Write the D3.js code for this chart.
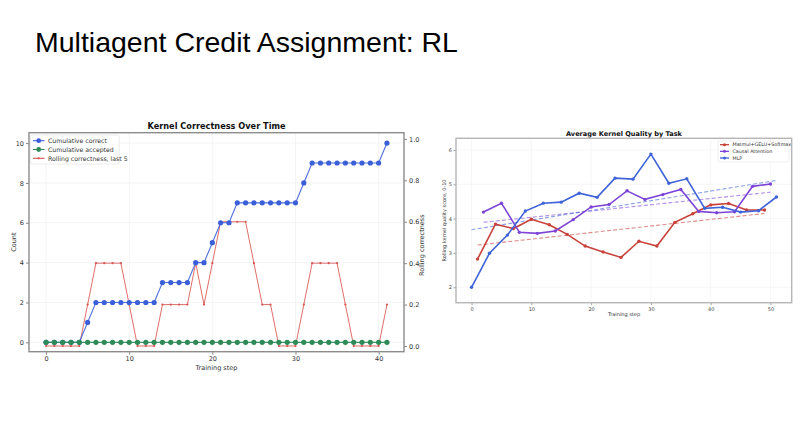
<!DOCTYPE html>
<html><head><meta charset="utf-8">
<script src="https://cdn.jsdelivr.net/npm/d3@7"></script>
<style>
body{margin:0;background:#fff;}
svg{display:block;}
text{font-family:"DejaVu Sans",sans-serif;fill:#333;}
</style></head>
<body>
<svg id="c" width="806" height="447"></svg>
<script>
// ---------- Data: left chart ----------
const stepsLeft = d3.range(0, 42);
const cumulativeCorrect = [0,0,0,0,0,1,2,2,2,2,2,2,2,2,3,3,3,3,4,4,5,6,6,7,7,7,7,7,7,7,7,8,9,9,9,9,9,9,9,9,9,10];
const cumulativeAccepted = stepsLeft.map(() => 0);
const rollingCorrectness = [0,0,0,0,0,0.2,0.4,0.4,0.4,0.4,0.2,0,0,0,0.2,0.2,0.2,0.2,0.4,0.2,0.4,0.6,0.6,0.6,0.6,0.4,0.2,0.2,0,0,0,0.2,0.4,0.4,0.4,0.4,0.2,0,0,0,0,0.2];
const leftXTicks = [0,10,20,30,40];
const leftYTicks = [0,2,4,6,8,10];
const leftY2Ticks = [0,0.2,0.4,0.6,0.8,1.0];
const leftLegend = ["Cumulative correct","Cumulative accepted","Rolling correctness, last 5"];

// ---------- Data: right chart ----------
const matmulSteps = [1,4,7,10,13,16,19,22,25,28,31,34,37,40,43,46,49];
const matmulValues = [2.82,3.84,3.71,3.98,3.82,3.54,3.20,3.03,2.87,3.34,3.20,3.89,4.14,4.40,4.44,4.25,4.25];
const attnSteps = [2,5,8,11,14,17,20,23,26,29,32,35,38,41,44,47,50];
const attnValues = [4.19,4.45,3.60,3.57,3.64,3.97,4.34,4.41,4.81,4.56,4.70,4.85,4.21,4.17,4.20,4.94,5.01];
const mlpSteps = [0,3,6,9,12,15,18,21,24,27,30,33,36,39,42,45,48,51];
const mlpValues = [2.00,2.99,3.52,4.22,4.45,4.48,4.74,4.62,5.18,5.15,5.88,5.03,5.16,4.30,4.33,4.19,4.23,4.63];
const rightXTicks = [0,10,20,30,40,50];
const rightYTicks = [2,3,4,5,6];
const rightLegend = ["Matmul+GELU+Softmax","Causal Attention","MLP"];

const svg = d3.select("#c");

// Slide title
svg.append("text").attr("x",35).attr("y",52)
  .style("font-family","'Liberation Sans',Arial,sans-serif")
  .style("font-size","28.5px").style("fill","#000")
  .text("Multiagent Credit Assignment: RL");

// ================= LEFT CHART =================
(function(){
  const L = {x0:29, x1:404, y0:132.7, y1:351.7};
  const x = d3.scaleLinear().domain([-2.05,43.05]).range([L.x0,L.x1]);
  const y = d3.scaleLinear().domain([-0.47,10.52]).range([L.y1,L.y0]);
  const y2 = d3.scaleLinear().domain([-0.0275,1.03]).range([L.y1,L.y0]);
  const g = svg.append("g");
  const fs = "6.5px";

  g.selectAll(".gx").data(leftXTicks).join("line")
    .attr("x1",d=>x(d)).attr("x2",d=>x(d)).attr("y1",L.y0).attr("y2",L.y1)
    .attr("stroke","#ececec").attr("stroke-width",0.6);
  g.selectAll(".gy").data(leftYTicks).join("line")
    .attr("y1",d=>y(d)).attr("y2",d=>y(d)).attr("x1",L.x0).attr("x2",L.x1)
    .attr("stroke","#ececec").attr("stroke-width",0.6);

  const ax = g.append("g").attr("transform",`translate(0,${L.y1})`)
    .call(d3.axisBottom(x).tickValues(leftXTicks).tickSize(3).tickPadding(2));
  const ay = g.append("g").attr("transform",`translate(${L.x0},0)`)
    .call(d3.axisLeft(y).tickValues(leftYTicks).tickSize(3).tickPadding(2));
  const ay2 = g.append("g").attr("transform",`translate(${L.x1},0)`)
    .call(d3.axisRight(y2).tickValues(leftY2Ticks).tickFormat(d3.format(".1f")).tickSize(3).tickPadding(2));
  [ax,ay,ay2].forEach(a=>{
    a.select(".domain").remove();
    a.selectAll(".tick line").attr("stroke","#555").attr("stroke-width",0.7);
    a.selectAll(".tick text").style("font-size",fs).style("fill","#333");
  });

  g.append("rect").attr("x",L.x0).attr("y",L.y0).attr("width",L.x1-L.x0).attr("height",L.y1-L.y0)
    .attr("fill","none").attr("stroke","#8c8c8c").attr("stroke-width",1.4);

  const blue="#3a5fd9", green="#2e8b57", red="#d9534f";
  const line = (ys)=>d3.line().x((d,i)=>x(stepsLeft[i])).y(d=>ys(d));
  g.append("path").datum(rollingCorrectness).attr("d",line(y2))
    .attr("fill","none").attr("stroke",red).attr("stroke-width",1).attr("opacity",0.85);
  g.selectAll(".rc").data(rollingCorrectness).join("circle")
    .attr("cx",(d,i)=>x(stepsLeft[i])).attr("cy",d=>y2(d)).attr("r",1.1).attr("fill",red);

  g.append("path").datum(cumulativeCorrect).attr("d",line(y))
    .attr("fill","none").attr("stroke",blue).attr("stroke-width",1.1).attr("opacity",0.9);
  g.selectAll(".cc").data(cumulativeCorrect).join("circle")
    .attr("cx",(d,i)=>x(stepsLeft[i])).attr("cy",d=>y(d)).attr("r",2.6).attr("fill",blue);

  g.append("path").datum(cumulativeAccepted).attr("d",line(y))
    .attr("fill","none").attr("stroke",green).attr("stroke-width",1.3).attr("opacity",0.9);
  g.selectAll(".ca").data(cumulativeAccepted).join("circle")
    .attr("cx",(d,i)=>x(stepsLeft[i])).attr("cy",d=>y(d)).attr("r",2.6).attr("fill",green);

  g.append("text").attr("x",(L.x0+L.x1)/2).attr("y",128.5).attr("text-anchor","middle")
    .style("font-size","8.2px").style("font-weight","bold").style("fill","#111")
    .text("Kernel Correctness Over Time");
  g.append("text").attr("x",(L.x0+L.x1)/2).attr("y",369.5).attr("text-anchor","middle")
    .style("font-size",fs).text("Training step");
  g.append("text").attr("transform",`translate(15.5,${(L.y0+L.y1)/2}) rotate(-90)`)
    .attr("text-anchor","middle").style("font-size",fs).text("Count");
  g.append("text").attr("transform",`translate(424,${(L.y0+L.y1)/2+3}) rotate(-90)`)
    .attr("text-anchor","middle").style("font-size",fs).text("Rolling correctness");

  const lg = g.append("g");
  lg.append("rect").attr("x",30.7).attr("y",135).attr("width",88.5).attr("height",29)
    .attr("rx",1.5).attr("fill","#fff").attr("fill-opacity",0.85).attr("stroke","#ddd").attr("stroke-width",0.6);
  const cols=[blue,green,red], rs=[2.4,2.4,1.1];
  leftLegend.forEach((t,i)=>{
    const yy = 140.7 + i*8.8;
    lg.append("line").attr("x1",33).attr("x2",44.5).attr("y1",yy).attr("y2",yy)
      .attr("stroke",cols[i]).attr("stroke-width",1.1);
    lg.append("circle").attr("cx",38.7).attr("cy",yy).attr("r",rs[i]).attr("fill",cols[i]);
    lg.append("text").attr("x",48).attr("y",yy+2.2).style("font-size","6.2px").text(t);
  });
})();

// ================= RIGHT CHART =================
(function(){
  const R = {x0:456, x1:791.7, y0:138.3, y1:302.7};
  const x = d3.scaleLinear().domain([-2.6,53.55]).range([R.x0,R.x1]);
  const y = d3.scaleLinear().domain([1.55,6.34]).range([R.y1,R.y0]);
  const g = svg.append("g");
  const fs = "5px";

  g.selectAll(".gx").data(rightXTicks).join("line")
    .attr("x1",d=>x(d)).attr("x2",d=>x(d)).attr("y1",R.y0).attr("y2",R.y1)
    .attr("stroke","#f0f0f0").attr("stroke-width",0.6);
  g.selectAll(".gy").data(rightYTicks).join("line")
    .attr("y1",d=>y(d)).attr("y2",d=>y(d)).attr("x1",R.x0).attr("x2",R.x1)
    .attr("stroke","#f0f0f0").attr("stroke-width",0.6);

  const ax = g.append("g").attr("transform",`translate(0,${R.y1})`)
    .call(d3.axisBottom(x).tickValues(rightXTicks).tickFormat(d3.format("d")).tickSize(2.5).tickPadding(2));
  const ay = g.append("g").attr("transform",`translate(${R.x0},0)`)
    .call(d3.axisLeft(y).tickValues(rightYTicks).tickFormat(d3.format("d")).tickSize(2.5).tickPadding(1.5));
  [ax,ay].forEach(a=>{
    a.select(".domain").remove();
    a.selectAll(".tick line").attr("stroke","#666").attr("stroke-width",0.6);
    a.selectAll(".tick text").style("font-size",fs).style("fill","#444");
  });

  g.append("rect").attr("x",R.x0).attr("y",R.y0).attr("width",R.x1-R.x0).attr("height",R.y1-R.y0)
    .attr("fill","none").attr("stroke","#b5b5b5").attr("stroke-width",1.4);

  const series = [
    {xs:matmulSteps, ys:matmulValues, c:"#c8413a"},
    {xs:attnSteps, ys:attnValues, c:"#7c45d8"},
    {xs:mlpSteps, ys:mlpValues, c:"#3f63d8"}
  ];
  series.forEach(s=>{
    const mx=d3.mean(s.xs), my=d3.mean(s.ys);
    const slope=d3.sum(s.xs,(v,i)=>(v-mx)*(s.ys[i]-my))/d3.sum(s.xs,v=>(v-mx)*(v-mx));
    const a=d3.min(s.xs), b=d3.max(s.xs);
    g.append("line").attr("x1",x(a)).attr("x2",x(b))
      .attr("y1",y(my+slope*(a-mx))).attr("y2",y(my+slope*(b-mx)))
      .attr("stroke",s.c).attr("stroke-width",1.1).attr("stroke-dasharray","4,2.2").attr("opacity",0.6);
  });
  series.forEach(s=>{
    const ln=d3.line().x((d,i)=>x(s.xs[i])).y(d=>y(d));
    g.append("path").datum(s.ys).attr("d",ln).attr("fill","none")
      .attr("stroke",s.c).attr("stroke-width",1.6);
    g.selectAll(null).data(s.ys).join("circle")
      .attr("cx",(d,i)=>x(s.xs[i])).attr("cy",d=>y(d)).attr("r",1.7).attr("fill",s.c);
  });

  g.append("text").attr("x",624).attr("y",135.5).attr("text-anchor","middle")
    .style("font-size","6.6px").style("font-weight","bold").style("fill","#111")
    .text("Average Kernel Quality by Task");
  g.append("text").attr("x",624).attr("y",316).attr("text-anchor","middle")
    .style("font-size",fs).text("Training step");
  g.append("text").attr("transform",`translate(445.5,${(R.y0+R.y1)/2}) rotate(-90)`)
    .attr("text-anchor","middle").style("font-size",fs).text("Rolling kernel quality score, 0-10");

  const lg=g.append("g");
  lg.append("rect").attr("x",718).attr("y",141).attr("width",71).attr("height",21)
    .attr("rx",1.5).attr("fill","#fff").attr("fill-opacity",0.85).attr("stroke","#ddd").attr("stroke-width",0.5);
  rightLegend.forEach((t,i)=>{
    const yy=144.7+i*6.65;
    lg.append("line").attr("x1",720).attr("x2",729).attr("y1",yy).attr("y2",yy)
      .attr("stroke",series[i].c).attr("stroke-width",1.3);
    lg.append("circle").attr("cx",724.5).attr("cy",yy).attr("r",1.5).attr("fill",series[i].c);
    lg.append("text").attr("x",732.5).attr("y",yy+1.7).style("font-size","4.8px").text(t);
  });
})();
</script>
</body></html>
